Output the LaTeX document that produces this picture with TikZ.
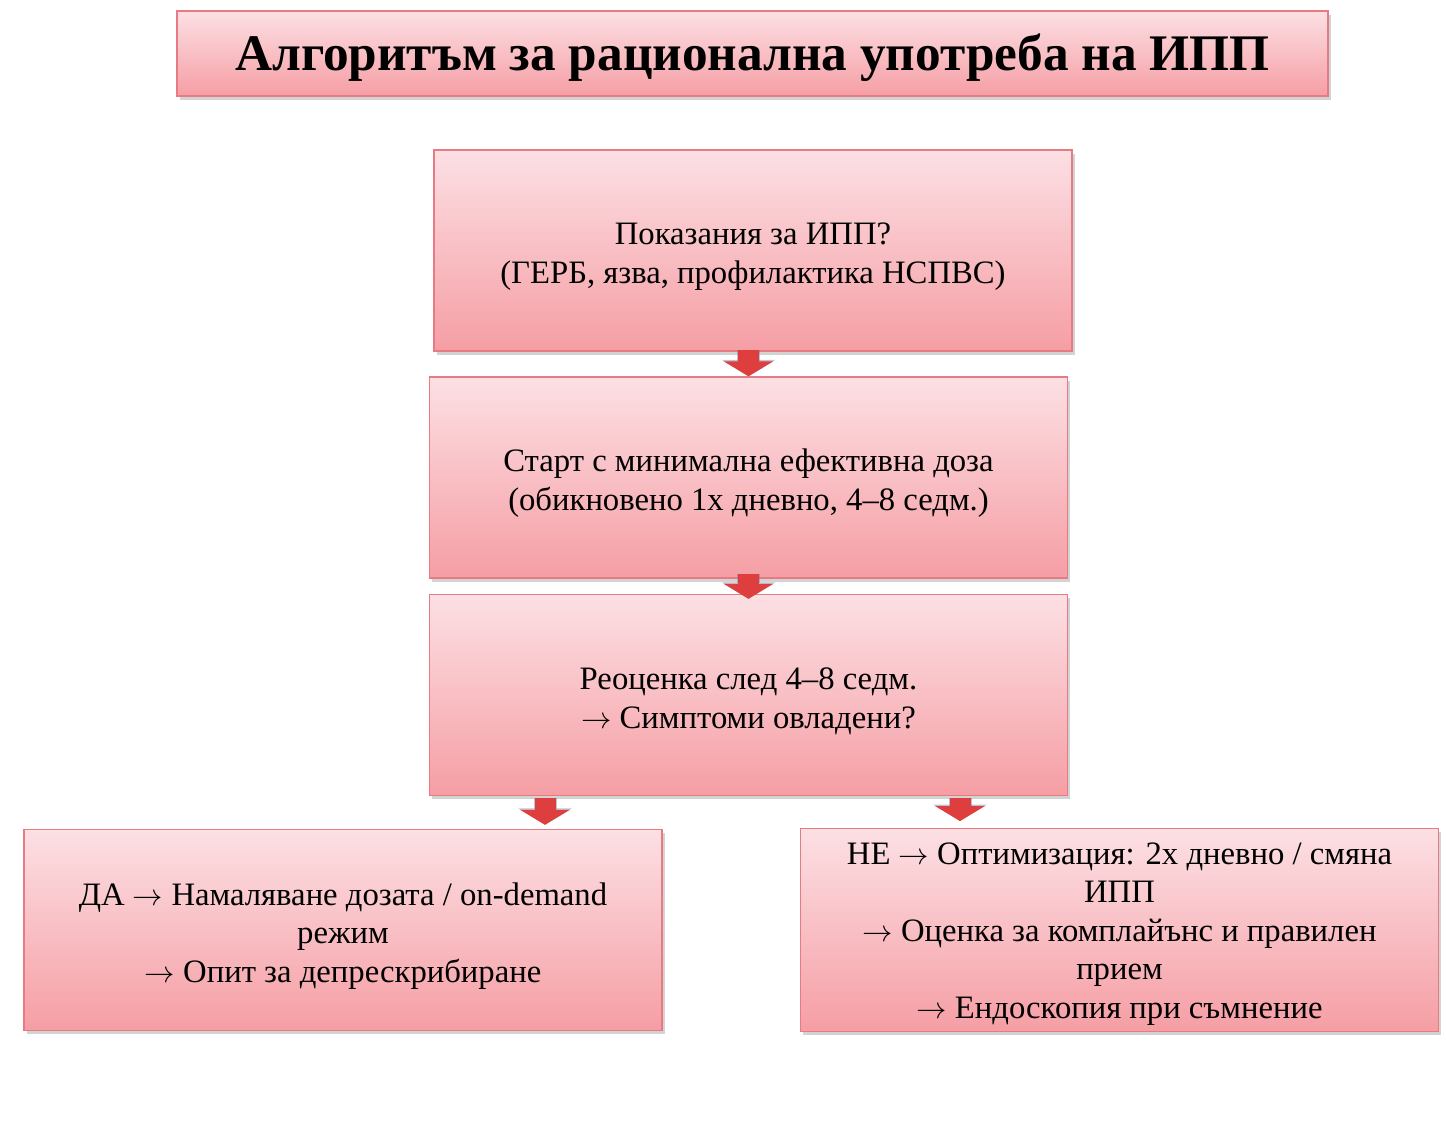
\documentclass[tikz,border=0pt]{standalone}
\usepackage{fontspec}
\setmainfont{Liberation Serif}
\usepackage{xcolor}
\usepackage{tikz}
\usetikzlibrary{arrows.meta, positioning, shadows}
\definecolor{pTop}{RGB}{252, 224, 228}
\definecolor{pBottom}{RGB}{245, 158, 164}
\definecolor{pEdge}{RGB}{232, 122, 132}
\definecolor{pArrow}{RGB}{222, 62, 62}
\definecolor{pArrowEdge}{RGB}{110, 120, 160}
\newcommand{\tto}{$\rightarrow$}
\newcommand{\topstrut}[1][19.5pt]{\rule{0pt}{#1}}

\tikzset{
  stagebox/.style={draw=pEdge, line width=0.8pt, top color=pTop, bottom color=pBottom,
    minimum width=12.76cm, minimum height=4.02cm, align=center,
    font=\fontsize{18.6}{21.9}\selectfont,
    drop shadow={opacity=0.35, shadow xshift=0.05cm, shadow yshift=-0.07cm}},
  flowarrow/.style={pArrow, line width=0.42cm,
    -{Triangle[width=0.98cm, length=0.3cm]},
    preaction={draw=pArrowEdge, opacity=0.45, line width=0.46cm,
      -{Triangle[width=1.06cm, length=0.33cm]}}}
}

\begin{document}
\begin{tikzpicture}
    \useasboundingbox (0,0) rectangle (28.92,-22.88);
    \node[stagebox, minimum width=23.02cm, minimum height=1.7cm,
          font=\fontsize{29.2}{32}\selectfont\bfseries] (title) at (15.05,-1.07)
      {\topstrut[26pt]Алгоритъм за рационална употреба на ИПП};
    \node[stagebox] (indic) at (15.06,-5.01)
      {\topstrut Показания за ИПП?\\(ГЕРБ, язва, профилактика НСПВС)};
    \node[stagebox] (start) at (14.97,-9.55)
      {\topstrut Старт с минимална ефективна доза\\(обикновено 1х дневно, 4–8 седм.)};
    \node[stagebox] (review) at (14.97,-13.9)
      {\topstrut Реоценка след 4–8 седм.\\\tto\ Симптоми овладени?};
    \node[stagebox] (yes) at (6.86,-18.6)
      {\topstrut ДА \tto\ Намаляване дозата / on-demand\\режим\\\tto\ Опит за депрескрибиране};
    \node[stagebox] (no) at (22.39,-18.6)
      {\topstrut[17pt]НЕ \tto\ Оптимизация: 2х дневно / смяна\\ИПП\\\tto\ Оценка за комплайънс и правилен\\прием\\\tto\ Ендоскопия при съмнение};
    \draw[flowarrow] ([yshift=0.04cm]indic.south -| start.north) -- (start.north);
    \draw[flowarrow] ([yshift=0.1cm]start.south) -- ([yshift=-0.1cm]review.north);
    \draw[flowarrow] ([xshift=-4.07cm, yshift=-0.04cm]review.south) -- ([xshift=-4.07cm, yshift=0.08cm]review.south |- yes.north);
    \draw[flowarrow] ([xshift=4.23cm, yshift=-0.04cm]review.south) -- ([xshift=4.23cm, yshift=0.14cm]review.south |- no.north);
\end{tikzpicture}
\end{document}
